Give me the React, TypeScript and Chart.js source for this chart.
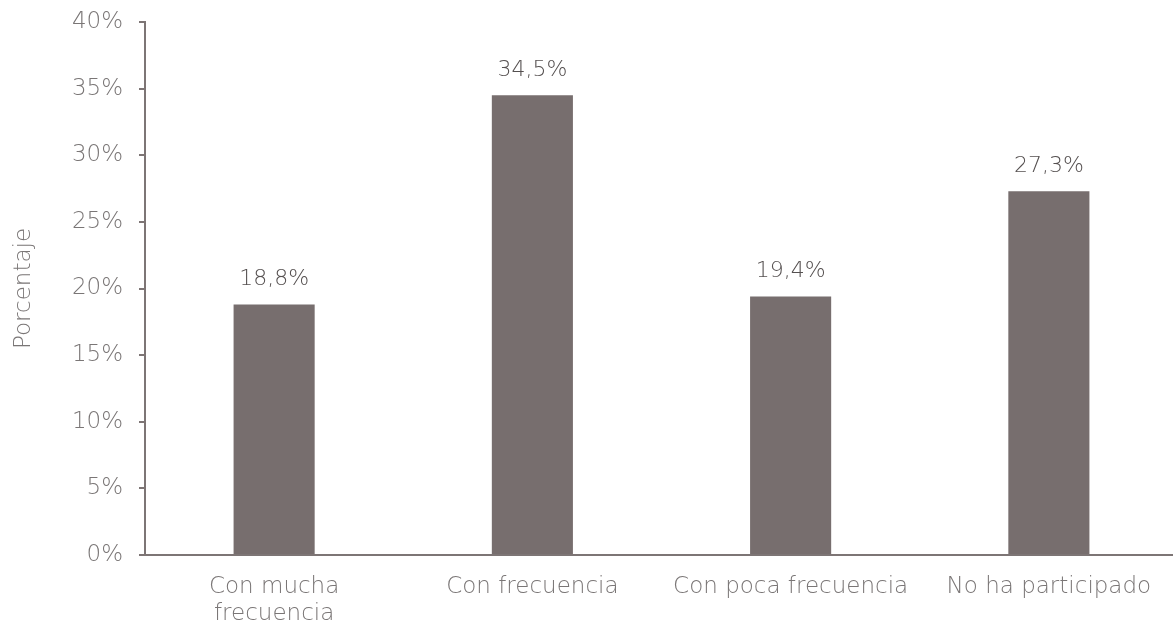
import { useEffect, useRef } from "react";
import { Chart, registerables, Plugin } from "chart.js";

Chart.register(...registerables);

const categories: (string | string[])[] = [
  ["Con mucha", "frecuencia"],
  "Con frecuencia",
  "Con poca frecuencia",
  "No ha participado",
];
const percentages = [18.8, 34.5, 19.4, 27.3];
const yTicks = [0, 5, 10, 15, 20, 25, 30, 35, 40];

const FONT = "'DejaVu Sans', sans-serif";
const BAR = "#776e6e";
const AXIS = "#7d7575";
const TICK_TEXT = "#7a7676";

const fmt = (v: number) => v.toFixed(1).replace(".", ",") + "%";

const valueLabels: Plugin<"bar"> = {
  id: "valueLabels",
  afterDatasetsDraw(chart) {
    const { ctx } = chart;
    const meta = chart.getDatasetMeta(0);
    ctx.save();
    ctx.font = `200 22px ${FONT}`;
    ctx.fillStyle = "#555050";
    ctx.textAlign = "center";
    ctx.textBaseline = "middle";
    meta.data.forEach((el, i) => {
      ctx.fillText(fmt(percentages[i]), el.x, el.y - 25);
    });
    ctx.restore();
  },
};

export default function App() {
  const ref = useRef<HTMLCanvasElement>(null);
  const chartRef = useRef<Chart | null>(null);

  useEffect(() => {
    document.body.style.margin = "0";
    document.body.style.overflow = "hidden";
    if (!ref.current) return;
    chartRef.current?.destroy();
    chartRef.current = new Chart(ref.current, {
      type: "bar",
      data: {
        labels: categories,
        datasets: [{
          data: percentages,
          backgroundColor: BAR,
          barPercentage: 0.314,
          categoryPercentage: 1,
        }],
      },
      options: {
        responsive: true,
        maintainAspectRatio: false,
        animation: false,
        layout: { padding: { top: 22, right: 0, bottom: 0, left: 0 } },
        plugins: {
          legend: { display: false },
          tooltip: { enabled: false },
        },
        scales: {
          x: {
            grid: { display: false, drawTicks: false },
            border: { display: true, color: AXIS, width: 2 },
            ticks: {
              color: TICK_TEXT,
              font: { family: FONT, size: 23, weight: 200, lineHeight: 1.2 },
              padding: 18,
              maxRotation: 0,
              autoSkip: false,
            },
            afterFit: (s) => { s.height = 73; s.paddingLeft = 0; s.paddingRight = 0; },
          },
          y: {
            min: 0,
            max: 40,
            afterBuildTicks: (s) => { s.ticks = yTicks.map((v) => ({ value: v })); },
            grid: { display: true, drawOnChartArea: false, drawTicks: true, tickLength: 6, color: AXIS, lineWidth: 2 },
            border: { display: true, color: AXIS, width: 2 },
            ticks: {
              color: TICK_TEXT,
              font: { family: FONT, size: 23, weight: 200 },
              padding: 16,
              callback: (v) => v + "%",
            },
            title: {
              display: true,
              text: "Porcentaje",
              color: TICK_TEXT,
              font: { family: FONT, size: 23, weight: 200 },
              padding: { top: 10, bottom: 0 },
            },
            afterFit: (s) => { s.width = 145; s.paddingTop = 0; s.paddingBottom = 0; },
          },
        },
      },
      plugins: [valueLabels],
    });
    return () => { chartRef.current?.destroy(); };
  }, []);

  return (
    <div style={{ position: "absolute", left: 0, top: 0, width: 1178, height: 628 }}>
      <canvas ref={ref} />
    </div>
  );
}
